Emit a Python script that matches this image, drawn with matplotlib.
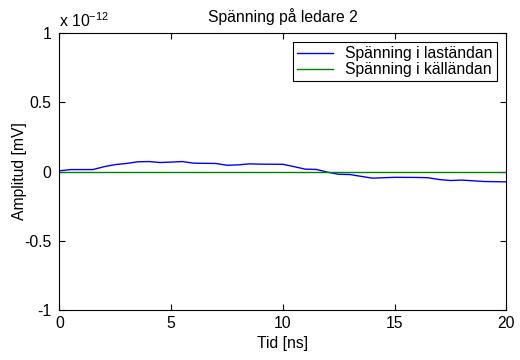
import numpy as np
import matplotlib.pyplot as plt

plt.rcParams['font.family'] = ['Liberation Sans', 'DejaVu Sans']

# Amplitude in units of 1e-12 mV
t = [0, 0.5, 1.5, 2, 2.5, 3, 3.5, 4, 4.5, 5, 5.5, 6, 7, 7.5, 8, 8.5, 9, 10,
     10.5, 11, 11.5, 12, 12.5, 13, 13.5, 14, 14.5, 15, 16, 16.5, 17, 17.5,
     18, 19, 20]
last = [0.005, 0.014, 0.014, 0.035, 0.05, 0.058, 0.07, 0.072, 0.065, 0.068,
        0.072, 0.06, 0.058, 0.045, 0.048, 0.055, 0.053, 0.052, 0.035, 0.017,
        0.015, -0.005, -0.02, -0.022, -0.035, -0.048, -0.045, -0.042, -0.043,
        -0.045, -0.058, -0.065, -0.062, -0.072, -0.075]
t_kalla = [0, 20]
kalla = [0, 0]

fs = 11.3

fig = plt.figure(figsize=(5.2, 3.6), dpi=100)
ax = fig.add_axes([0.1144, 0.1389, 0.8593, 0.7694])

ax.plot(t, last, color='#0000ff', linewidth=1.0,
        label='Spänning i laständan')
ax.plot(t_kalla, kalla, color='#008000', linewidth=1.0,
        label='Spänning i källändan')

ax.set_xlim(0, 20)
ax.set_ylim(-1, 1)
ax.set_xticks([0, 5, 10, 15, 20])
ax.set_yticks([-1, -0.5, 0, 0.5, 1])
ax.set_yticklabels(['-1', '-0.5', '0', '0.5', '1'])
ax.tick_params(direction='in', top=True, right=True, labelsize=fs,
               length=4, width=0.8)
ax.tick_params(axis='x', pad=4)
ax.tick_params(axis='y', pad=6)
for s in ax.spines.values():
    s.set_linewidth(0.8)

ax.set_xlabel('Tid [ns]', fontsize=fs, labelpad=4)
ax.set_ylabel('Amplitud [mV]', fontsize=fs, labelpad=-2)
ax.set_title('Spänning på ledare 2', fontsize=fs, pad=8)
ax.text(0, 1.012, r'x 10$^{\mathregular{-12}}$', transform=ax.transAxes,
        fontsize=fs, ha='left', va='bottom')

leg = ax.legend(loc='upper right', fontsize=fs, fancybox=False,
                framealpha=1, edgecolor='black', borderpad=0.25,
                labelspacing=0.05, handlelength=2.3, borderaxespad=0.6)
leg.get_frame().set_linewidth(0.8)

fig.savefig('out.png', dpi=100)
plt.close()
